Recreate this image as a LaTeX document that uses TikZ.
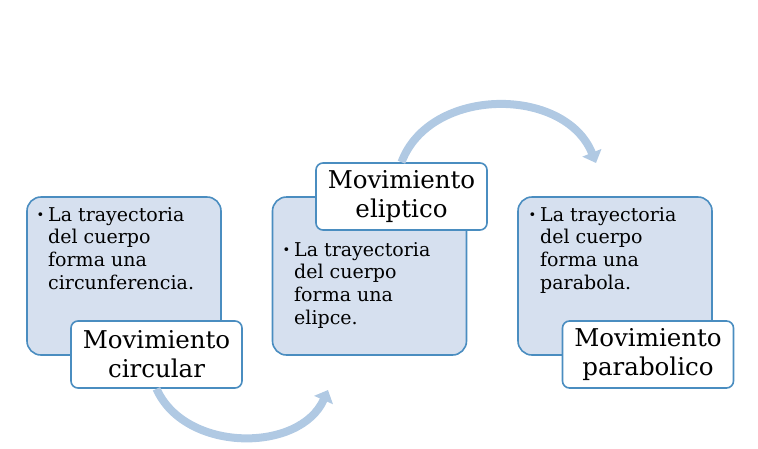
\documentclass[tikz,border=0pt]{standalone}
\usepackage{fontspec}
\setmainfont{DejaVu Serif}
\usetikzlibrary{arrows.meta}
\definecolor{BoxFill}{RGB}{214,224,239}
\definecolor{BoxLine}{RGB}{74,141,192}
\definecolor{ArcBlue}{RGB}{176,201,227}
\newcommand{\bulletlist}[1]{\makebox[11.5pt][l]{\raisebox{1.5pt}{\fontsize{13}{13}\selectfont\textbullet}}\begin{tabular}[t]{@{}l@{}}#1\end{tabular}}

\begin{document}
\begin{tikzpicture}[x=1pt,y=1pt,yscale=-1,xscale=1,
	panel/.style={draw=BoxLine, line width=1.6pt, fill=BoxFill, rounded corners=14pt, minimum width=194pt, minimum height=158pt, inner sep=0pt},
	title/.style={draw=BoxLine, line width=1.6pt, fill=white, rounded corners=7pt, minimum width=171pt, minimum height=67pt, inner sep=0pt, align=center, font=\fontsize{24.5}{29}\selectfont},
	bullets/.style={anchor=base west, inner sep=0pt, font=\fontsize{19}{22.7}\selectfont},
	flow/.style={ArcBlue, line width=8pt, -{Triangle[length=11pt,width=20pt]}}]
		% Set diagram size
		\useasboundingbox (0,0) rectangle (758,448);

		% The three blue panels
		\node[panel] (circ) at (124,276) {};
		\node[panel] (elip) at (369.5,276) {};
		\node[panel] (para) at (615,276) {};

		% The text inside each panel
		\node[bullets] (circtext) at (36.5,221) {\bulletlist{La trayectoria\\ del cuerpo\\ forma una\\ circunferencia.}};
		\node[bullets] (eliptext) at (282.5,256) {\bulletlist{La trayectoria\\ del cuerpo\\ forma una\\ elipce.}};
		\node[bullets] (paratext) at (528.5,221) {\bulletlist{La trayectoria\\ del cuerpo\\ forma una\\ parabola.}};

		% The white titles on top of the panels
		\node[title] (circtitle) at (156.5,354.5) {Movimiento\\ circular};
		\node[title] (eliptitle) at (401.5,196.5) {Movimiento\\ eliptico};
		\node[title] (paratitle) at (648,354.5) {Movimiento\\ parabolico};

		% Free ends of the curved arrows
		\coordinate (lowend) at (328,390);
		\coordinate (highend) at (596,163);

		% The curved arrows between the panels
		\draw[flow] (circtitle.south) .. controls (185,453) and (300,453) .. (lowend);
		\draw[flow] (eliptitle.north) .. controls (430,86) and (565,86) .. (highend);
	\end{tikzpicture}
\end{document}
